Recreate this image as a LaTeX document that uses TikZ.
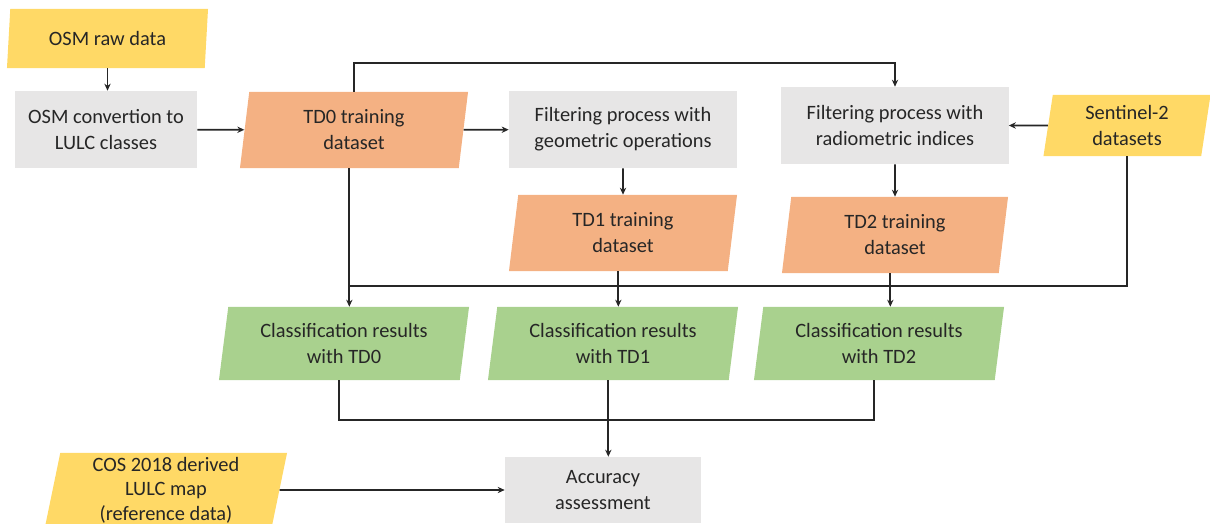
\documentclass[tikz,border=0pt]{standalone}
\usepackage{fontspec}
\setmainfont{Carlito}
\usetikzlibrary{shapes.geometric, arrows.meta, positioning}
\definecolor{rawyellow}{HTML}{FFD966}
\definecolor{tdorange}{HTML}{F4B183}
\definecolor{resgreen}{HTML}{A9D18E}
\definecolor{procgray}{HTML}{E7E6E6}
\definecolor{linegray}{HTML}{262626}
\tikzset{
	>={Stealth[length=5pt,width=4.5pt]}, % puntas pequenas
	every node/.style={font=\fontsize{14.5}{18.5}\selectfont, text=linegray, align=center, inner sep=0pt},
	proc/.style={rectangle, fill=procgray}, % cajas de proceso
	para/.style={trapezium, trapezium left angle=77, trapezium right angle=103,
		trapezium stretches body}, % datos
	raw/.style={para, fill=rawyellow},
	tdset/.style={para, fill=tdorange},
	result/.style={para, fill=resgreen},
	link/.style={draw=linegray, line width=1.2pt}
}

\begin{document}
\begin{tikzpicture}[x=0.025cm, y=-0.025cm]
	\useasboundingbox (0,0) rectangle (1210,524);
	\node[raw, minimum width=5.025cm, minimum height=1.475cm] (osm) at (107.5,38.5) {OSM raw data};
	\node[proc, minimum width=4.55cm, minimum height=1.925cm] (conv) at (106,129.5) {OSM convertion to\\LULC classes};
	\node[tdset, minimum width=5.7cm, minimum height=1.9cm] (td0) at (354,130) {TD0 training\\dataset};
	\node[proc, minimum width=5.7cm, minimum height=1.925cm] (geom) at (623,129.5) {Filtering process with\\geometric operations};
	\node[proc, minimum width=5.675cm, minimum height=1.925cm] (rad) at (895,125.5) {Filtering process with\\radiometric indices};
	\node[raw, minimum width=4.175cm, minimum height=1.525cm] (sent) at (1127,125.5) {Sentinel-2\\datasets};
	\node[tdset, minimum width=5.7cm, minimum height=1.9cm] (td1) at (623,233) {TD1 training\\dataset};
	\node[tdset, minimum width=5.65cm, minimum height=1.9cm] (td2) at (895,235) {TD2 training\\dataset};
	\node[result, minimum width=6.25cm, minimum height=1.825cm] (cl0) at (344,343.5) {Classification results\\with TD0};
	\node[result, minimum width=6.25cm, minimum height=1.825cm] (cl1) at (613,343.5) {Classification results\\with TD1};
	\node[result, minimum width=6.25cm, minimum height=1.825cm] (cl2) at (879,343.5) {Classification results\\with TD2};
	\node[proc, minimum width=4.9cm, minimum height=1.65cm] (acc) at (603,490) {Accuracy\\assessment};
	\node[raw, minimum width=6.05cm, minimum height=1.85cm, font=\fontsize{14.5}{17.5}\selectfont] (cos) at (166,490) {COS 2018 derived\\LULC map\\(reference data)};
	\coordinate (bus) at (0,286);
	\coordinate (join) at (0,420);
	% conexiones
	\draw[link, ->] (osm.south) -- (osm.south |- conv.north);
	\draw[link, ->] (conv) -- (td0);
	\draw[link, ->] (td0) -- (geom);
	\draw[link, ->] (td0.north) -- ++(0,-29) -| (rad.north);
	\draw[link, ->] (sent) -- (rad);
	\draw[link, ->] (geom) -- (td1);
	\draw[link, ->] (rad) -- (td2);
	\draw[link] (sent.south) |- (td0.bottom side |- bus);
	\draw[link, ->] (td0.bottom side) -- (td0.bottom side |- cl0.north);
	\draw[link, ->] (td1.bottom side) -- (td1.bottom side |- cl1.north);
	\draw[link, ->] (td2.bottom side) -- (td2.bottom side |- cl2.north);
	\draw[link] (cl0.bottom side) |- (cl2.bottom side |- join) -- (cl2.bottom side);
	\draw[link, ->] (cl1.bottom side) -- (cl1.bottom side |- acc.north);
	\draw[link, ->] (cos) -- (acc);
\end{tikzpicture}
\end{document}
